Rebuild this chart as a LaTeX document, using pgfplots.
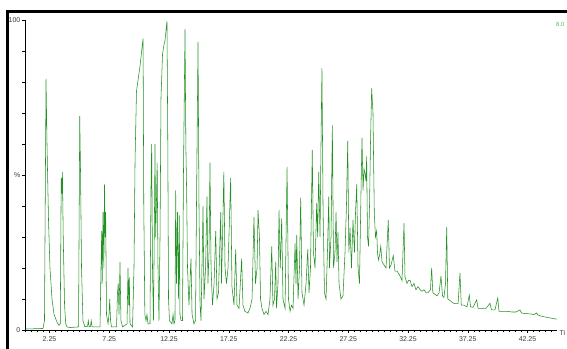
\documentclass[border=0pt]{standalone}
\usepackage{pgfplots}
\pgfplotsset{compat=1.18}
\usepackage{fontspec}
\setmainfont{Liberation Sans}
\definecolor{chrom}{RGB}{35,145,35}
\definecolor{lbl}{RGB}{60,60,60}
\begin{document}
\begin{tikzpicture}
\useasboundingbox (0,0) rectangle (567bp,349bp);
\fill[white] (0,0) rectangle (567bp,349bp);
\begin{axis}[
  at={(25bp,19bp)}, anchor=south west,
  scale only axis, width=532bp, height=310bp,
  xmin=0.2, xmax=44.72, ymin=0, ymax=100,
  axis x line*=bottom, axis y line*=left,
  axis line style={black, line width=0.5pt},
  xtick={2.25,7.25,...,42.25},
  minor xtick={0.25,0.75,...,44.75},
  ytick={0,50,100}, yticklabels={0,\%,100},
  minor ytick={10,20,30,40,60,70,80,90},
  tick align=outside,
  major tick length=3bp, minor tick length=2.5bp,
  tick style={black, line width=0.4pt},
  /pgf/number format/assume math mode=true,
  /pgf/number format/fixed, /pgf/number format/precision=2,
  /pgf/number format/fixed zerofill,
  xticklabel style={font=\fontsize{7}{8}\selectfont, text=lbl},
  yticklabel style={font=\fontsize{7}{8}\selectfont, text=lbl, inner sep=1.5pt},
]
\addplot[chrom, line width=0.55pt] table {
t I
0.20 0.3
1.71 0.5
1.83 3
1.96 81
2.04 60
2.17 35
2.29 20
2.46 10
2.63 5
2.88 2.5
3.05 1.5
3.15 2
3.23 49
3.28 44
3.33 51
3.40 30
3.51 8
3.61 2
3.72 1
3.97 0.8
4.68 1
4.78 69
4.85 50
4.93 20
5.05 3
5.22 1
5.43 1.2
5.50 3
5.56 1
5.68 1.2
5.74 3
5.81 1
6.48 1
6.56 20
6.62 32
6.66 15
6.73 38
6.80 20
6.85 47
6.90 30
6.95 38
7.02 5
7.15 2
7.23 5
7.29 10
7.36 3
7.44 1
7.86 1
7.94 12
8.00 15
8.07 5
8.15 22
8.23 3
8.36 1
8.74 2
8.82 20
8.88 8
8.93 17
8.99 2
9.20 1
9.32 20
9.41 55
9.53 77
9.82 85
10.08 94
10.14 40
10.23 5
10.33 3
10.41 5
10.49 2
10.66 2
10.74 45
10.80 60
10.87 20
10.95 3
11.04 40
11.08 60
11.13 30
11.19 39
11.26 54
11.33 20
11.41 3
11.50 30
11.58 75
11.71 89
11.83 92
11.92 93.5
12.08 99.7
12.15 60
12.21 10
12.29 3
12.50 2
12.59 5
12.67 2
12.75 3
12.81 45
12.88 15
12.96 38
13.05 10
13.11 37
13.17 5
13.26 3
13.38 3
13.46 50
13.59 97
13.66 60
13.73 43.5
13.80 20
13.92 8
14.09 23
14.18 5
14.34 2
14.47 3
14.55 40
14.68 93
14.76 40
14.85 8
14.93 3
15.10 40
15.18 10
15.31 20
15.43 43
15.51 15
15.60 25
15.68 54
15.77 20
15.89 8
16.02 15
16.16 32
16.27 10
16.39 12
16.58 38
16.64 15
16.73 30
16.84 51
16.94 20
17.06 15
17.19 20
17.41 49
17.52 14
17.69 8
17.83 26
17.94 8
18.11 7
18.33 23
18.44 8
18.61 6
18.86 5.5
19.03 7
19.20 10
19.36 36.5
19.49 15
19.62 20
19.70 38.7
19.82 30
19.91 10
20.03 7
20.20 5
20.37 6
20.54 5
20.70 10
20.85 27
20.95 8
21.08 10
21.18 22
21.25 7
21.37 15
21.46 38.7
21.56 20
21.68 36
21.79 10
21.96 7
22.13 52.6
22.25 10
22.38 6
22.50 8
22.63 7
22.80 28
22.88 15
22.94 30.6
23.05 10
23.17 20
23.27 42.6
23.38 12
23.55 8
23.72 15
23.86 26
23.97 12
24.09 20
24.24 58
24.34 25
24.47 20
24.61 41
24.69 30
24.78 51
24.89 30
24.97 60
25.05 84.5
25.14 40
25.26 12
25.39 10
25.51 25
25.62 43
25.68 20
25.81 30
25.92 66
26.02 20
26.14 25
26.23 38
26.31 22
26.39 31.6
26.48 15
26.64 10
26.81 11
26.98 25
27.10 40
27.21 61
27.30 25
27.40 33
27.52 20
27.65 35.5
27.77 25
27.86 38
27.96 47
28.07 20
28.19 15
28.32 45
28.40 62
28.49 45
28.57 52
28.65 50.6
28.74 48
28.79 56
28.86 30
28.95 27
29.03 40
29.11 60
29.21 78
29.32 70
29.43 37.7
29.53 30
29.63 32
29.70 25
29.77 22.6
29.87 24
29.97 27
30.08 22
30.24 21
30.41 20
30.60 35.5
30.70 20
30.83 21
31.02 24
31.16 19
31.33 19
31.50 18
31.64 17
31.75 16
31.83 25
31.92 34.5
32.00 17
32.17 15
32.29 16
32.42 16
32.59 14
32.75 15
32.92 13
33.09 14
33.26 13
33.42 12.5
33.59 13
33.76 12
33.92 12
34.13 13
34.23 20
34.33 12
34.51 11.5
34.68 11
34.85 12
35.01 17.4
35.14 11
35.26 10.5
35.39 15
35.49 33.2
35.58 10
35.77 9.5
36.02 8.7
36.18 8.5
36.44 8.5
36.60 18.4
36.71 8
36.94 8
37.19 7.5
37.38 11.3
37.48 7.5
37.69 7.3
38.00 9.7
38.11 7
38.44 7
38.78 7
39.11 8.6
39.24 6.5
39.53 6.5
39.76 10.3
39.87 6
40.20 6
40.62 6
40.95 5.8
41.29 5.8
41.62 6.5
41.75 5.5
42.04 5.3
42.46 5.2
42.80 5
43.02 5.5
43.13 4.8
43.38 4.5
43.72 4.2
44.13 3.9
44.55 3.6
44.72 3.5
};
\end{axis}
\draw[black, line width=3bp] (7.5bp,0) -- (7.5bp,337.5bp) -- (567bp,337.5bp);
\node[anchor=west, inner sep=0pt, text=chrom!70!white, font=\fontsize{6}{7}\selectfont] at (556bp,325bp) {8.0};
\node[anchor=west, inner sep=0pt, text=lbl, font=\fontsize{7}{8}\selectfont] at (559.5bp,16.5bp) {Ti};
\end{tikzpicture}
\end{document}
